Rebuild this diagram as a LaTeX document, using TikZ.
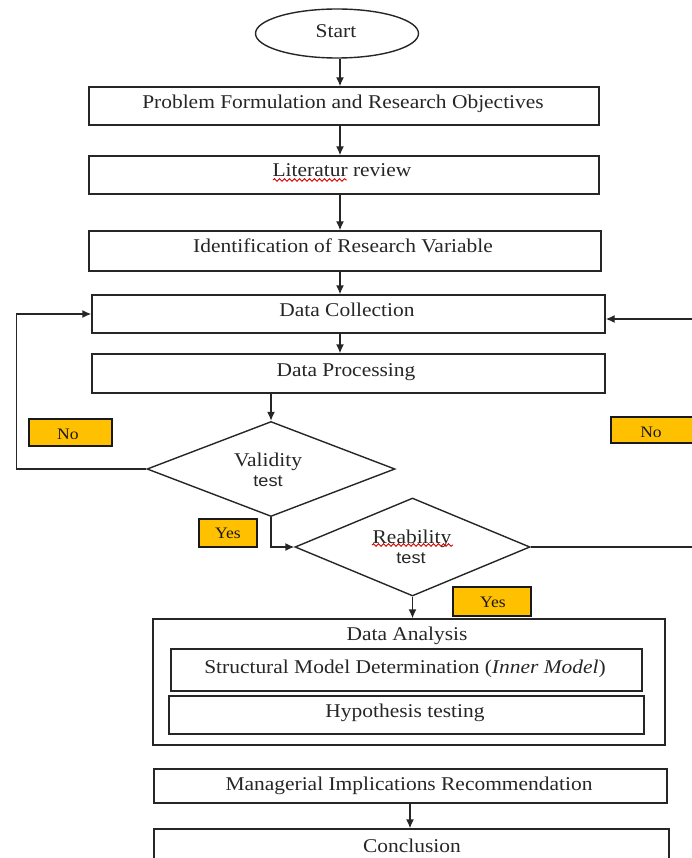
\documentclass[tikz,border=0pt]{standalone}
\usepackage{fontspec}
\setmainfont{Liberation Serif}[FakeStretch=1.1]
\newfontfamily\sansf{Liberation Sans}[FakeStretch=1.1]
\usetikzlibrary{arrows.meta,shapes.geometric,decorations.pathmorphing}
\definecolor{tagyellow}{HTML}{FFC000}
\begin{document}
\begin{tikzpicture}[x=1pt,y=-1pt,
  line/.style={draw=black!85, line width=1.4pt},
  arr/.style={line, -{Latex[length=9pt,width=8pt]}},
  box/.style={draw=black!85, line width=1.4pt, inner sep=0pt},
  txt/.style={inner sep=0pt, text height=14pt, text depth=0pt, font=\fontsize{19.5}{22}\selectfont, text=black!85},
  stxt/.style={inner sep=0pt, text height=13pt, text depth=0pt, font=\sansf\fontsize{16.5}{20}\selectfont, text=black!85},
  tag/.style={draw=black!90, line width=1.4pt, fill=tagyellow, inner sep=0pt},
  tagtxt/.style={inner sep=0pt, text height=10pt, text depth=0pt, font=\fontsize{16}{18}\selectfont, text=black!90},
  squiggle/.style={draw=red!85!black, line width=0.9pt, decorate, decoration={snake, amplitude=1.3pt, segment length=5pt}}
]
\useasboundingbox (0,0) rectangle (692,858);
\clip (0,0) rectangle (692,858);

% start
\node[box, ellipse, minimum width=163, minimum height=49] (start) at (337,33.5) {};
\node[txt] (tstart) at (336,31) {Start};

% top boxes
\node[box, minimum width=510, minimum height=38] (b1) at (344,106) {};
\node[txt] (t1) at (343,102) {Problem Formulation and Research Objectives};
\node[box, minimum width=510, minimum height=38] (b2) at (344,175) {};
\node[txt] (t2) at (342,170) {Literatur review};
\node[box, minimum width=512, minimum height=40] (b3) at (345,251) {};
\node[txt] (t3) at (343,246) {Identification of Research Variable};
\node[box, minimum width=513, minimum height=38] (b4) at (348.5,314) {};
\node[txt] (t4) at (347,309) {Data Collection};
\node[box, minimum width=513, minimum height=39] (b5) at (348.5,373.5) {};
\node[txt] (t5) at (346,369) {Data Processing};

% decisions
\node[box, diamond, minimum width=248, minimum height=95] (val) at (271,469) {};
\node[txt] (tval1) at (268,459) {Validity};
\node[stxt] (tval2) at (268,480) {test};
\node[box, diamond, minimum width=235, minimum height=98] (rel) at (412.5,547) {};
\node[txt] (trel1) at (412,536) {Reability};
\node[stxt] (trel2) at (411,557) {test};

% spell-check marks
\draw[squiggle] (273,180) -- (347,180);
\draw[squiggle] (372,545) -- (453,545);

% tags
\node[tag, minimum width=83, minimum height=27] (no1) at (70.5,432.5) {};
\node[tagtxt] (tno1) at (68,434) {No};
\node[tag, minimum width=89, minimum height=26] (no2) at (655.5,430) {};
\node[tagtxt] (tno2) at (651,432) {No};
\node[tag, minimum width=58, minimum height=28] (yes1) at (228,533) {};
\node[tagtxt] (tyes1) at (228,533) {Yes};
\node[tag, minimum width=78, minimum height=29] (yes2) at (492,601.5) {};
\node[tagtxt] (tyes2) at (493,602) {Yes};

% data analysis
\node[box, minimum width=512, minimum height=126] (da) at (409,682) {};
\node[txt] (tda) at (407,633) {Data Analysis};
\node[box, minimum width=471, minimum height=42] (sm) at (406.5,670) {};
\node[txt] (tsm) at (405,666) {Structural Model Determination (\textit{Inner Model})};
\node[box, minimum width=475, minimum height=38] (ht) at (406.5,715) {};
\node[txt] (tht) at (405,710) {Hypothesis testing};

% bottom
\node[box, minimum width=513, minimum height=34] (b6) at (410.5,786) {};
\node[txt] (t6) at (409,783) {Managerial Implications Recommendation};
\node[box, minimum width=515, minimum height=46] (b7) at (411.5,852) {};
\node[txt] (t7) at (412,845) {Conclusion};

% connectors
\coordinate (ax) at (340,0);
\coordinate (ax2) at (410,0);
\coordinate (lloop) at (16.5,314);
\coordinate (rloop) at (700,319);
\draw[arr] (start.south -| ax) -- (b1.north -| ax);
\draw[arr] (b1.south -| ax) -- (b2.north -| ax);
\draw[arr] (b2.south -| ax) -- (b3.north -| ax);
\draw[arr] (b3.south -| ax) -- (b4.north -| ax);
\draw[arr] (b4.south -| ax) -- (b5.north -| ax);
\draw[arr] (b5.south -| val.north) -- (val.north);
\draw[arr] (val.west) -| (lloop) -- (b4.west);
\draw[arr] (val.south) |- (rel.west);
\draw[arr] (rel.east) -| (rloop) -- (b4.east |- rloop);
\draw[arr] (rel.south) -- (rel.south |- da.north);
\draw[arr] (b6.south -| ax2) -- (b7.north -| ax2);
\end{tikzpicture}
\end{document}
